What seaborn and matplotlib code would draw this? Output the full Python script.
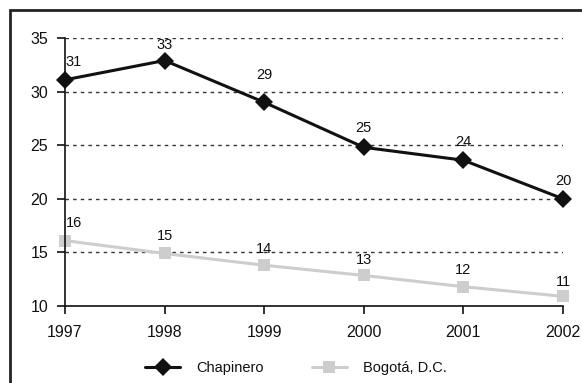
import matplotlib
matplotlib.use("Agg")
import matplotlib.pyplot as plt
import seaborn as sns
import pandas as pd
from matplotlib.patches import Rectangle

years = [1997, 1998, 1999, 2000, 2001, 2002]
chapinero = [31.1, 32.9, 29.0, 24.8, 23.6, 20.0]
bogota = [16.1, 14.9, 13.8, 12.85, 11.8, 10.9]
chap_labels = ["31", "33", "29", "25", "24", "20"]
bog_labels = ["16", "15", "14", "13", "12", "11"]
series_names = ["Chapinero", "Bogotá, D.C."]
y_ticks = [10, 15, 20, 25, 30, 35]

df = pd.DataFrame({
    "year": years * 2,
    "value": chapinero + bogota,
    "series": [series_names[0]] * len(years) + [series_names[1]] * len(years),
})

sns.set_theme(style="white")
plt.rcParams["font.family"] = ["Liberation Sans", "DejaVu Sans"]

fig = plt.figure(figsize=(5.82, 3.83), dpi=100)
ax = fig.add_axes([65 / 582, 1 - 306 / 383, (563 - 65) / 582, (306 - 38) / 383])

palette = {series_names[0]: "#111111", series_names[1]: "#cdcdcd"}
sns.lineplot(data=df, x="year", y="value", hue="series", style="series",
             markers={series_names[0]: "D", series_names[1]: "s"},
             dashes=False, palette=palette, linewidth=2.2, markersize=9,
             markeredgewidth=0, ax=ax, clip_on=False, legend=True)
if len(ax.lines) >= 2:
    ax.lines[1].set_markersize(8)

ax.set_xlim(1997, 2002)
ax.set_ylim(10, 35)
ax.set_xticks(years)
ax.set_xticklabels([str(y) for y in years])
ax.set_yticks(y_ticks)
ax.set_xlabel("")
ax.set_ylabel("")
for s in ["top", "right"]:
    ax.spines[s].set_visible(False)
for s in ["left", "bottom"]:
    ax.spines[s].set_color("#111111")
    ax.spines[s].set_linewidth(1.2)
ax.tick_params(axis="both", which="both", direction="out", length=6, width=1.2,
               color="#111111", labelsize=11.5, labelcolor="#111111")
ax.tick_params(axis="x", pad=8)
ax.tick_params(axis="y", pad=6)
ax.xaxis.set_ticks_position("bottom")
ax.yaxis.set_ticks_position("left")

for yv in y_ticks[1:]:
    ax.axhline(yv, color="#333333", linestyle=(0, (2.5, 3)), linewidth=1.0, zorder=0)

px = 0.72
offsets_c = [(9, 18), (0, 16), (0, 27), (0, 19), (0, 18), (0, 18)]
offsets_b = [(9, 18), (0, 17), (0, 16), (0, 15), (0, 17), (0, 14)]
for x, v, lab, off in zip(years, chapinero, chap_labels, offsets_c):
    ax.annotate(lab, (x, v), xytext=(off[0] * px, off[1] * px), textcoords="offset points",
                ha="center", va="center", fontsize=10.5, color="#111111")
for x, v, lab, off in zip(years, bogota, bog_labels, offsets_b):
    ax.annotate(lab, (x, v), xytext=(off[0] * px, off[1] * px), textcoords="offset points",
                ha="center", va="center", fontsize=10.5, color="#111111")

leg = ax.legend(loc="center", bbox_to_anchor=(296 / 582, 1 - 368 / 383),
                bbox_transform=fig.transFigure, ncol=2, frameon=False,
                fontsize=10.5, handlelength=2.4, handletextpad=1.1,
                columnspacing=3.3, borderaxespad=0)
for t in leg.get_texts():
    t.set_color("#111111")

fig.patches.append(Rectangle((10 / 582, -0.1), 1.2, 1 - 10 / 383 + 0.1,
                             transform=fig.transFigure, fill=False,
                             edgecolor="#222222", linewidth=2.0))

fig.savefig("out.png", dpi=100)
